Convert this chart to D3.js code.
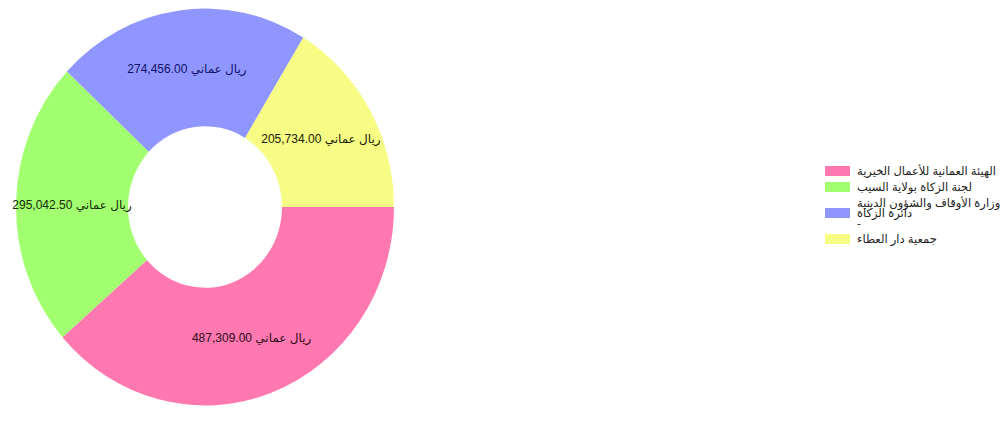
<!DOCTYPE html>
<html lang="en">
<head>
    <meta charset="UTF-8">
    <title>Donut</title>
    <script src="https://d3js.org/d3.v7.min.js"></script>
    <style>
        body { margin: 0; background: #fff; }
        text { font-family: "Liberation Sans", Arial, "DejaVu Sans", sans-serif; }
    </style>
</head>
<body>
    <script>

        // donors and amounts (Omani rial)
        var categories = ["الهيئة العمانية للأعمال الخيرية", "لجنة الزكاة بولاية السيب", "وزارة الأوقاف والشؤون الدينية دائرة الزكاة -", "جمعية دار العطاء"];
        var values = [487309.00, 295042.50, 274456.00, 205734.00];
        var currency = "ريال عماني";
        // legend text as it wraps in the picture
        var legend_lines = [["الهيئة العمانية للأعمال الخيرية"], ["لجنة الزكاة بولاية السيب"], ["وزارة الأوقاف والشؤون الدينية", "دائرة الزكاة", "-"], ["جمعية دار العطاء"]];

        var fills = ["#ff78b0", "#a2ff70", "#9096ff", "#f6fc84"];
        var label_colors = ["#2a0a18", "#142a05", "#10106a", "#202000"];

        var width = 1000;
        var height = 434;
        var cx = 205, cy = 207;
        var outer = 189, inner = 77;
        var sy = 1.05; // picture is a little taller than wide

        var svg = d3.select('body').append('svg')
            .attr('width', width)
            .attr('height', height);

        var pie = d3.pie()
            .sort(null)
            .startAngle(Math.PI / 2)
            .endAngle(Math.PI / 2 + 2 * Math.PI);

        var arc = d3.arc().innerRadius(inner).outerRadius(outer);
        var slices = pie(values);

        svg.append('g')
            .attr('transform', 'translate(' + cx + ',' + cy + ') scale(1,' + sy + ')')
            .selectAll('path')
            .data(slices)
            .enter()
            .append('path')
            .attr('d', arc)
            .attr('fill', function (d, i) { return fills[i]; });

        var fmt = d3.format(",.2f");

        svg.append('g')
            .selectAll('text')
            .data(slices)
            .enter()
            .append('text')
            .attr('x', function (d) { return cx + arc.centroid(d)[0]; })
            .attr('y', function (d) { return cy + arc.centroid(d)[1] * sy; })
            .attr('text-anchor', 'middle')
            .attr('dominant-baseline', 'central')
            .attr('font-size', 12)
            .attr('fill', function (d, i) { return label_colors[i]; })
            .text(function (d) { return fmt(d.data) + ' ' + currency; });

        // legend
        var lx = 825, line_h = 10, gap = 6;
        var y = 166;
        var legend = svg.append('g');
        categories.forEach(function (c, i) {
            var lines = legend_lines[i];
            var h = lines.length * line_h;
            var mid = y + h / 2;
            legend.append('rect')
                .attr('x', lx)
                .attr('y', mid - 5)
                .attr('width', 25)
                .attr('height', 10)
                .attr('fill', fills[i]);
            lines.forEach(function (l, j) {
                legend.append('text')
                    .attr('x', lx + 32)
                    .attr('y', y + line_h * j + line_h / 2)
                    .attr('dominant-baseline', 'central')
                    .attr('font-size', 11.5)
                    .attr('fill', '#222')
                    .text(l);
            });
            y = y + h + gap;
        });

    </script>
</body>
</html>
